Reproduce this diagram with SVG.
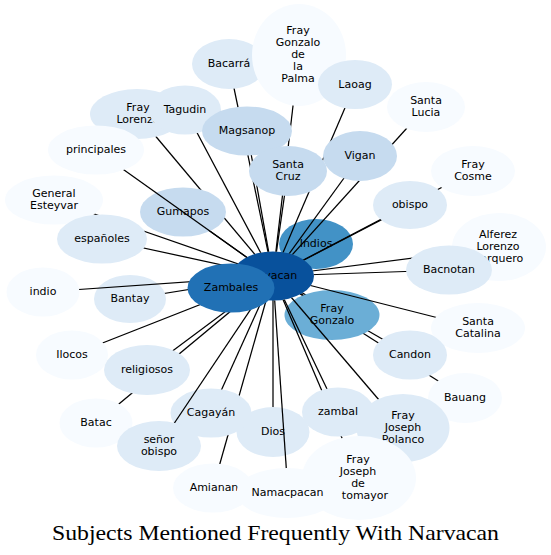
<svg xmlns="http://www.w3.org/2000/svg" width="551" height="555" viewBox="0 0 551 555">
<style>
.e{stroke:#000;stroke-width:1.25;fill:none}
.c1{fill:#f7fbff}.c2{fill:#deebf7}.c3{fill:#c6dbef}
.c4{fill:#6baed6}.c5{fill:#4292c6}.c6{fill:#2171b5}.c7{fill:#08519c}
text{font-family:"DejaVu Sans",sans-serif;font-size:11px;text-anchor:middle;fill:#000}
.title{font-family:"Liberation Serif",serif;font-size:21px;text-anchor:start}
</style>
<defs>
<mask id="mNar" maskUnits="userSpaceOnUse" x="0" y="0" width="551" height="555">
<rect x="0" y="0" width="551" height="555" fill="#fff"/>
<ellipse cx="273" cy="276" rx="41" ry="24.5" fill="#000"/>
</mask>
</defs>
<rect width="551" height="555" fill="#fff"/>

<g id="connectors">
<line class="e" x1="273" y1="276" x2="410" y2="355"/>
<line class="e" x1="273" y1="276" x2="465" y2="398"/>
<line class="e" x1="273" y1="276" x2="213" y2="488"/>
<line class="e" x1="273" y1="276" x2="316" y2="244"/>
<line class="e" x1="273" y1="276" x2="183" y2="212"/>
<line class="e" x1="273" y1="276" x2="332" y2="315"/>
<line class="e" x1="273" y1="276" x2="273" y2="432"/>
<line class="e" x1="273" y1="276" x2="130" y2="299"/>
<line class="e" x1="273" y1="276" x2="211" y2="413"/>
<line class="e" x1="273" y1="276" x2="137" y2="114"/>
</g>

<g id="n-gumapos"><ellipse class="c3" cx="183" cy="212" rx="43" ry="24.5"/><text x="183" y="215.3">Gumapos</text></g>
<g id="n-indios"><ellipse class="c5" cx="316" cy="244" rx="37" ry="25"/><text x="316" y="247.3">Indios</text></g>
<g id="n-fray-gonzalo"><ellipse class="c4" cx="332" cy="315" rx="47.5" ry="25"/><text x="332" y="312.3">Fray</text><text x="332" y="324.3">Gonzalo</text></g>
<g id="n-dios"><ellipse class="c2" cx="273" cy="432" rx="36.5" ry="25"/><text x="273" y="435.3">Dios</text></g>
<g id="n-bantay"><ellipse class="c2" cx="130" cy="299" rx="36" ry="24"/><text x="130" y="302.3">Bantay</text></g>
<g id="n-cagayan"><ellipse class="c2" cx="211" cy="413" rx="40.5" ry="24.5"/><text x="211" y="416.3">Cagayán</text></g>
<g id="n-narvacan"><ellipse class="c7" cx="273" cy="276" rx="41" ry="24.5"/><text x="271" y="279.3">Narvacan</text></g>

<g id="connectors-over" mask="url(#mNar)">
<line class="e" x1="273" y1="276" x2="229" y2="64"/>
<line class="e" x1="273" y1="276" x2="299" y2="55"/>
<line class="e" x1="273" y1="276" x2="355" y2="84.5"/>
<line class="e" x1="273" y1="276" x2="426" y2="107"/>
<line class="e" x1="273" y1="276" x2="360" y2="156"/>
<line class="e" x1="273" y1="276" x2="473" y2="171"/>
<line class="e" x1="273" y1="276" x2="185" y2="110"/>
<line class="e" x1="273" y1="276" x2="247" y2="131"/>
<line class="e" x1="273" y1="276" x2="96" y2="150"/>
<line class="e" x1="273" y1="276" x2="288" y2="171"/>
<line class="e" x1="273" y1="276" x2="410" y2="205"/>
<line class="e" x1="273" y1="276" x2="54" y2="200"/>
<line class="e" x1="273" y1="276" x2="499" y2="247"/>
<line class="e" x1="273" y1="276" x2="102" y2="239"/>
<line class="e" x1="273" y1="276" x2="449" y2="270"/>
<line class="e" x1="273" y1="276" x2="43" y2="292"/>
<line class="e" x1="273" y1="276" x2="478" y2="328"/>
<line class="e" x1="273" y1="276" x2="72" y2="355"/>
<line class="e" x1="273" y1="276" x2="147" y2="370"/>
<line class="e" x1="273" y1="276" x2="96" y2="423"/>
<line class="e" x1="273" y1="276" x2="338" y2="412"/>
<line class="e" x1="273" y1="276" x2="403" y2="428"/>
<line class="e" x1="273" y1="276" x2="159" y2="446"/>
<line class="e" x1="273" y1="276" x2="288" y2="493"/>
<line class="e" x1="273" y1="276" x2="359" y2="478"/>
</g>

<g id="n-bacarra"><ellipse class="c2" cx="229" cy="64" rx="37" ry="25"/><text x="229" y="67.3">Bacarrá</text></g>
<g id="n-fray-gonzalo-de-la-palma"><ellipse class="c1" cx="299" cy="55" rx="47" ry="51"/><text x="298" y="34.3">Fray</text><text x="298" y="46.3">Gonzalo</text><text x="298" y="58.3">de</text><text x="298" y="70.3">la</text><text x="298" y="82.3">Palma</text></g>
<g id="n-laoag"><ellipse class="c2" cx="355" cy="84.5" rx="37" ry="24.5"/><text x="355" y="87.8">Laoag</text></g>
<g id="n-santa-lucia"><ellipse class="c1" cx="426" cy="107" rx="39" ry="25"/><text x="426" y="104">Santa</text><text x="426" y="116">Lucia</text></g>
<g id="n-vigan"><ellipse class="c3" cx="360" cy="156" rx="37" ry="25"/><text x="360" y="159.3">Vigan</text></g>
<g id="n-fray-cosme"><ellipse class="c1" cx="473" cy="171" rx="42" ry="25"/><text x="473" y="168.3">Fray</text><text x="473" y="180.3">Cosme</text></g>
<g id="n-fray-lorenzo"><ellipse class="c2" cx="137" cy="114" rx="47" ry="25"/><text x="138" y="111.3">Fray</text><text x="138" y="123.3">Lorenzo</text></g>
<g id="n-tagudin"><ellipse class="c2" cx="185" cy="110" rx="36" ry="24.5"/><text x="185" y="113.3">Tagudin</text></g>
<g id="n-magsanop"><ellipse class="c3" cx="247" cy="131" rx="45" ry="24.5"/><text x="247" y="134.3">Magsanop</text></g>
<g id="n-principales"><ellipse class="c1" cx="96" cy="150" rx="48" ry="24.5"/><text x="96" y="153.3">principales</text></g>
<g id="n-santa-cruz"><ellipse class="c3" cx="288" cy="171" rx="39" ry="25"/><text x="288" y="167.5">Santa</text><text x="288" y="179.5">Cruz</text></g>
<g id="n-obispo"><ellipse class="c2" cx="410" cy="205" rx="37" ry="24"/><text x="410" y="208.3">obispo</text></g>
<g id="n-general-esteyvar"><ellipse class="c1" cx="54" cy="200" rx="49" ry="24.5"/><text x="54" y="197.3">General</text><text x="54" y="209.3">Esteyvar</text></g>
<g id="n-espanoles"><ellipse class="c2" cx="102" cy="239" rx="45" ry="24.5"/><text x="102" y="242.3">españoles</text></g>
<g id="n-alferez"><ellipse class="c1" cx="499" cy="247" rx="47" ry="34"/><text x="498" y="238.3">Alferez</text><text x="498" y="250.3">Lorenzo</text><text x="498" y="262.3">Barquero</text></g>
<g id="n-bacnotan"><ellipse class="c2" cx="449" cy="270" rx="43" ry="24.5"/><text x="449" y="273.3">Bacnotan</text></g>
<g id="n-indio"><ellipse class="c1" cx="43" cy="292" rx="36.5" ry="24.5"/><text x="43" y="295.3">indio</text></g>
<g id="n-santa-catalina"><ellipse class="c1" cx="478" cy="328" rx="47" ry="25"/><text x="478" y="325.3">Santa</text><text x="478" y="337.3">Catalina</text></g>
<g id="n-candon"><ellipse class="c2" cx="410" cy="355" rx="37" ry="24.5"/><text x="410" y="358.3">Candon</text></g>
<g id="n-bauang"><ellipse class="c1" cx="465" cy="398" rx="37" ry="25"/><text x="465" y="401.3">Bauang</text></g>
<g id="n-ilocos"><ellipse class="c1" cx="72" cy="355" rx="36" ry="24.5"/><text x="72" y="358.3">Ilocos</text></g>
<g id="n-religiosos"><ellipse class="c2" cx="147" cy="370" rx="43" ry="25"/><text x="147" y="373.3">religiosos</text></g>
<g id="n-batac"><ellipse class="c1" cx="96" cy="423" rx="36.5" ry="24.5"/><text x="96" y="426.3">Batac</text></g>
<g id="n-senor-obispo"><ellipse class="c2" cx="159" cy="446" rx="42" ry="25"/><text x="159" y="443.3">señor</text><text x="159" y="455.3">obispo</text></g>
<g id="n-zambal"><ellipse class="c2" cx="338" cy="412" rx="36" ry="24.5"/><text x="338" y="415.3">zambal</text></g>
<g id="n-fray-joseph-polanco"><ellipse class="c2" cx="403" cy="428" rx="46.5" ry="34"/><text x="403" y="419.3">Fray</text><text x="403" y="431.3">Joseph</text><text x="403" y="443.3">Polanco</text></g>
<g id="n-amianan"><ellipse class="c1" cx="213" cy="488" rx="40" ry="24.5"/><text x="214" y="491.3">Amianan</text></g>
<g id="n-fray-joseph-de-tomayor"><ellipse class="c1" cx="359" cy="478" rx="57" ry="42"/><text x="358" y="463.3">Fray</text><text x="358" y="475.3">Joseph</text><text x="358" y="487.3">de</text><text x="365" y="499.3">tomayor</text></g>
<g id="n-namacpacan"><ellipse class="c1" cx="287" cy="493" rx="50.5" ry="25"/><text x="287.5" y="496.3">Namacpacan</text></g>
<g id="n-zambales"><ellipse class="c6" cx="231" cy="288" rx="43.5" ry="24.5"/><text x="231" y="291.3">Zambales</text></g>

<text class="title" x="52" y="539.5" textLength="447" lengthAdjust="spacingAndGlyphs">Subjects Mentioned Frequently With Narvacan</text>
</svg>
